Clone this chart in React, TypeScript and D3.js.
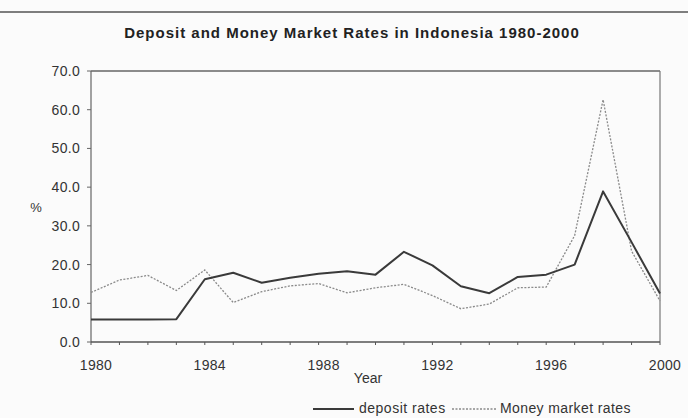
import React from "react";
import * as d3 from "d3";

const years: number[] = [1980,1981,1982,1983,1984,1985,1986,1987,1988,1989,1990,1991,1992,1993,1994,1995,1996,1997,1998,1999,2000];
const depositRates: number[] = [5.8,5.8,5.8,5.9,16.2,17.9,15.3,16.6,17.6,18.3,17.4,23.3,19.8,14.4,12.6,16.8,17.4,20.0,38.9,25.8,12.5];
const moneyMarketRates: number[] = [12.8,16.0,17.2,13.3,18.6,10.2,13.0,14.5,15.1,12.7,14.0,14.9,12.0,8.6,9.8,14.0,14.2,27.5,62.6,23.5,10.6];
const yTicks: number[] = [0,10,20,30,40,50,60,70];
const xLabelYears: number[] = [1980,1984,1988,1992,1996,2000];
const title = "Deposit and Money Market Rates in Indonesia 1980-2000";
const seriesNames: string[] = ["deposit rates", "Money market rates"];

const W = 688, H = 418;
const left = 91, right = 660, top = 71, bottom = 342;
const font = "Liberation Sans, Arial, sans-serif";

export default function App() {
  const x = d3.scaleLinear().domain([1980, 2000]).range([left, right]);
  const y = d3.scaleLinear().domain([0, 70]).range([bottom, top]);
  const line = d3.line<number>().x((_, i) => x(years[i])).y(d => y(d));
  const fmt = d3.format(".1f");
  return (
    <div style={{ position: "absolute", left: 0, top: 0 }}>
      <svg width={W} height={H} style={{ display: "block" }}>
        <rect x={0} y={0} width={W} height={H} fill="#fbfbfb" />
        <line x1={0} x2={W} y1={12} y2={12} stroke="#555" strokeWidth={1.5} />
        <text x={352} y={38} textAnchor="middle" fontFamily={font} fontWeight="bold" fontSize={15} letterSpacing={1} fill="#222">{title}</text>
        {/* frame */}
        <line x1={left} x2={right} y1={top} y2={top} stroke="#666" strokeWidth={1.5} />
        <line x1={right} x2={right} y1={top} y2={bottom} stroke="#777" strokeWidth={1.2} />
        <line x1={left} x2={left} y1={top} y2={bottom} stroke="#666" strokeWidth={1.2} />
        <line x1={left} x2={right} y1={bottom} y2={bottom} stroke="#555" strokeWidth={1.5} />
        {yTicks.map(t => (
          <g key={t}>
            <line x1={left - 4} x2={left} y1={y(t)} y2={y(t)} stroke="#666" strokeWidth={1} />
            <text x={80} y={y(t)} dy="0.36em" textAnchor="end" fontFamily={font} fontSize={14} letterSpacing={0.3} fill="#333">{fmt(t)}</text>
          </g>
        ))}
        {years.map(yr => (
          <line key={yr} x1={x(yr)} x2={x(yr)} y1={bottom} y2={bottom + 3} stroke="#555" strokeWidth={1} />
        ))}
        {xLabelYears.map(yr => (
          <text key={yr} x={x(yr) + 5} y={370} textAnchor="middle" fontFamily={font} fontSize={14} letterSpacing={0.3} fill="#333">{yr}</text>
        ))}
        <text x={368} y={383} textAnchor="middle" fontFamily={font} fontSize={14} fill="#333">Year</text>
        <text x={36} y={207} dy="0.36em" textAnchor="middle" fontFamily={font} fontSize={13} fill="#333">%</text>
        {/* series */}
        <path d={line(moneyMarketRates) || ""} fill="none" stroke="#8a8a8a" strokeWidth={1.3} strokeDasharray="2,1.5" />
        <path d={line(depositRates) || ""} fill="none" stroke="#3a3a3a" strokeWidth={2} strokeLinejoin="round" />
        {/* legend */}
        <line x1={313} x2={354} y1={409} y2={409} stroke="#3a3a3a" strokeWidth={2} />
        <text x={359} y={413} fontFamily={font} fontSize={14} letterSpacing={0.5} fill="#333">{seriesNames[0]}</text>
        <line x1={452} x2={497} y1={409} y2={409} stroke="#8a8a8a" strokeWidth={1.3} strokeDasharray="2,1.5" />
        <text x={500} y={413} fontFamily={font} fontSize={14} letterSpacing={0.4} fill="#333">{seriesNames[1]}</text>
      </svg>
    </div>
  );
}
